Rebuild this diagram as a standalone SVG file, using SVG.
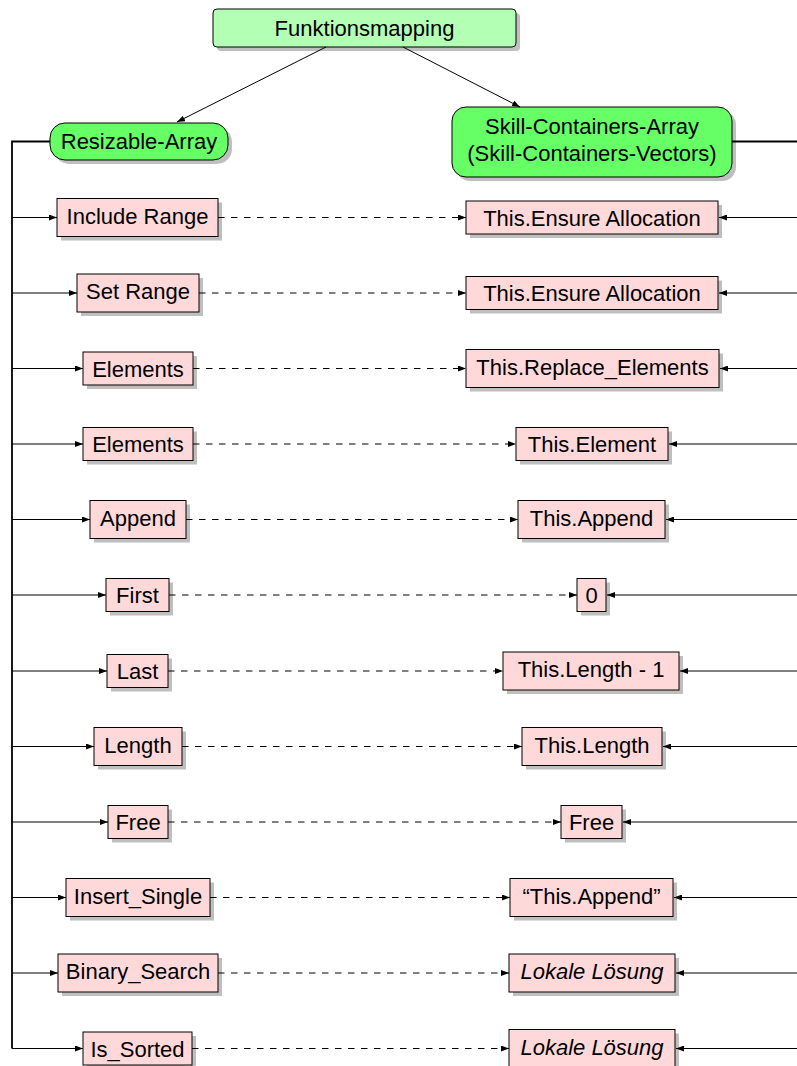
<svg xmlns="http://www.w3.org/2000/svg" width="797" height="1066" viewBox="0 0 797 1066">
  <style>
    text { font-family: "Liberation Sans", Arial, sans-serif; font-size: 22px; fill: #000; text-anchor: middle; }
    .it { font-style: italic; }
    .box { fill: #ffd9d9; stroke: #000; stroke-width: 1; }
    .shadow { fill: #bfbfbf; }
    .top { fill: #b3ffb3; stroke: #000; stroke-width: 1; }
    .mid { fill: #66ff66; stroke: #000; stroke-width: 1; }
    .ln { fill: none; stroke: #000; stroke-width: 1; }
    .trunk { fill: none; stroke: #000; stroke-width: 1.8; }
    .dash { fill: none; stroke: #000; stroke-width: 1; stroke-dasharray: 6.5 6.5; }
  </style>
  <defs>
    <marker id="tip" markerUnits="userSpaceOnUse" markerWidth="8" markerHeight="6" refX="8" refY="3" orient="auto">
      <path d="M0,0 L8,3 L0,6 Z" fill="#000"/>
    </marker>
  </defs>

  <rect width="797" height="1066" fill="#fff"/>

  <!-- root -->
  <g id="funktionsmapping">
    <rect class="shadow" x="217" y="13" width="303" height="38" rx="4"/>
    <rect class="top" x="213" y="9" width="303" height="38" rx="4"/>
    <text x="364.5" y="35.5">Funktionsmapping</text>
  </g>

  <!-- the two container families -->
  <g id="resizable-array">
    <rect class="shadow" x="54" y="127" width="178" height="37" rx="15"/>
    <rect class="mid" x="50" y="123" width="178" height="37" rx="15"/>
    <text x="139" y="149">Resizable-Array</text>
  </g>
  <g id="skill-containers-array">
    <rect class="shadow" x="456" y="111" width="280" height="70" rx="14"/>
    <rect class="mid" x="452" y="107" width="280" height="70" rx="14"/>
    <text x="592" y="133.5">Skill-Containers-Array</text>
    <text x="592" y="161">(Skill-Containers-Vectors)</text>
  </g>

  <!-- Resizable-Array operations -->
  <g id="l-include-range"><rect class="shadow" x="61" y="202.5" width="161" height="38"/><rect class="box" x="57" y="198.5" width="161" height="38"/><text x="137.5" y="223.5">Include Range</text></g>
  <g id="l-set-range"><rect class="shadow" x="81" y="278" width="122" height="38"/><rect class="box" x="77" y="274" width="122" height="38"/><text x="138" y="299">Set Range</text></g>
  <g id="l-elements-1"><rect class="shadow" x="87" y="356" width="110" height="33"/><rect class="box" x="83" y="352" width="110" height="33"/><text x="138" y="376.5">Elements</text></g>
  <g id="l-elements-2"><rect class="shadow" x="87" y="431.5" width="110" height="33"/><rect class="box" x="83" y="427.5" width="110" height="33"/><text x="138" y="452">Elements</text></g>
  <g id="l-append"><rect class="shadow" x="94" y="504.5" width="96" height="38"/><rect class="box" x="90" y="500.5" width="96" height="38"/><text x="138" y="525.5">Append</text></g>
  <g id="l-first"><rect class="shadow" x="110" y="582.5" width="63" height="33"/><rect class="box" x="106" y="578.5" width="63" height="33"/><text x="137.5" y="603">First</text></g>
  <g id="l-last"><rect class="shadow" x="111" y="658.5" width="61" height="33"/><rect class="box" x="107" y="654.5" width="61" height="33"/><text x="137.5" y="679">Last</text></g>
  <g id="l-length"><rect class="shadow" x="98" y="731.5" width="88" height="38"/><rect class="box" x="94" y="727.5" width="88" height="38"/><text x="138" y="752.5">Length</text></g>
  <g id="l-free"><rect class="shadow" x="112" y="809.5" width="60" height="33"/><rect class="box" x="108" y="805.5" width="60" height="33"/><text x="138" y="830">Free</text></g>
  <g id="l-insert-single"><rect class="shadow" x="70" y="882.5" width="144" height="38"/><rect class="box" x="66" y="878.5" width="144" height="38"/><text x="138" y="903.5">Insert_Single</text></g>
  <g id="l-binary-search"><rect class="shadow" x="62" y="958" width="160" height="38"/><rect class="box" x="58" y="954" width="160" height="38"/><text x="138" y="979">Binary_Search</text></g>
  <g id="l-is-sorted"><rect class="shadow" x="87" y="1036" width="109" height="33"/><rect class="box" x="83" y="1032" width="109" height="33"/><text x="137.5" y="1056.5">Is_Sorted</text></g>

  <!-- Skill-Containers counterparts -->
  <g id="r-ensure-allocation-1"><rect class="shadow" x="470" y="205" width="252" height="33"/><rect class="box" x="466" y="201" width="252" height="33"/><text x="592" y="225.5">This.Ensure Allocation</text></g>
  <g id="r-ensure-allocation-2"><rect class="shadow" x="470" y="280.5" width="252" height="33"/><rect class="box" x="466" y="276.5" width="252" height="33"/><text x="592" y="301">This.Ensure Allocation</text></g>
  <g id="r-replace-elements"><rect class="shadow" x="470" y="353.5" width="253" height="38"/><rect class="box" x="466" y="349.5" width="253" height="38"/><text x="592.5" y="374.5">This.Replace_Elements</text></g>
  <g id="r-element"><rect class="shadow" x="520" y="431.5" width="152" height="33"/><rect class="box" x="516" y="427.5" width="152" height="33"/><text x="592" y="452">This.Element</text></g>
  <g id="r-append"><rect class="shadow" x="522" y="504.5" width="147" height="38"/><rect class="box" x="518" y="500.5" width="147" height="38"/><text x="591.5" y="525.5">This.Append</text></g>
  <g id="r-zero"><rect class="shadow" x="581" y="582.5" width="29" height="33"/><rect class="box" x="577" y="578.5" width="29" height="33"/><text x="591.5" y="603">0</text></g>
  <g id="r-length-minus-one"><rect class="shadow" x="507" y="656" width="176" height="38"/><rect class="box" x="503" y="652" width="176" height="38"/><text x="591" y="677">This.Length - 1</text></g>
  <g id="r-length"><rect class="shadow" x="526" y="731.5" width="140" height="38"/><rect class="box" x="522" y="727.5" width="140" height="38"/><text x="592" y="752.5">This.Length</text></g>
  <g id="r-free"><rect class="shadow" x="565" y="809.5" width="61" height="33"/><rect class="box" x="561" y="805.5" width="61" height="33"/><text x="591.5" y="830">Free</text></g>
  <g id="r-append-quoted"><rect class="shadow" x="514" y="882.5" width="163" height="38"/><rect class="box" x="510" y="878.5" width="163" height="38"/><text x="591.5" y="903.5">“This.Append”</text></g>
  <g id="r-local-1"><rect class="shadow" x="513" y="958" width="166" height="38"/><rect class="box" x="509" y="954" width="166" height="38"/><text class="it" x="592" y="979">Lokale Lösung</text></g>
  <g id="r-local-2"><rect class="shadow" x="513" y="1033.5" width="166" height="38"/><rect class="box" x="509" y="1029.5" width="166" height="38"/><text class="it" x="592" y="1054.5">Lokale Lösung</text></g>

  <!-- connectors -->
  <g id="connectors">
    <path class="ln" d="M326,47 L177,122" marker-end="url(#tip)"/>
    <path class="ln" d="M403,47 L520,107" marker-end="url(#tip)"/>

    <path class="trunk" d="M50,141.5 H12 V1048.5"/>
    <path class="trunk" d="M732,141.5 H800"/>

    <!-- left trunk to operations -->
    <path class="ln" d="M12,217.5 H57" marker-end="url(#tip)"/>
    <path class="ln" d="M12,293 H77" marker-end="url(#tip)"/>
    <path class="ln" d="M12,368.5 H83" marker-end="url(#tip)"/>
    <path class="ln" d="M12,444 H83" marker-end="url(#tip)"/>
    <path class="ln" d="M12,519.5 H90" marker-end="url(#tip)"/>
    <path class="ln" d="M12,595 H106" marker-end="url(#tip)"/>
    <path class="ln" d="M12,671 H107" marker-end="url(#tip)"/>
    <path class="ln" d="M12,746.5 H94" marker-end="url(#tip)"/>
    <path class="ln" d="M12,822 H108" marker-end="url(#tip)"/>
    <path class="ln" d="M12,897.5 H66" marker-end="url(#tip)"/>
    <path class="ln" d="M12,973 H58" marker-end="url(#tip)"/>
    <path class="ln" d="M12,1048.5 H83" marker-end="url(#tip)"/>

    <!-- mapping -->
    <path class="dash" d="M218,217.5 H466" marker-end="url(#tip)"/>
    <path class="dash" d="M199,293 H466" marker-end="url(#tip)"/>
    <path class="dash" d="M193,368.5 H466" marker-end="url(#tip)"/>
    <path class="dash" d="M193,444 H516" marker-end="url(#tip)"/>
    <path class="dash" d="M186,519.5 H518" marker-end="url(#tip)"/>
    <path class="dash" d="M169,595 H577" marker-end="url(#tip)"/>
    <path class="dash" d="M168,671 H503" marker-end="url(#tip)"/>
    <path class="dash" d="M182,746.5 H522" marker-end="url(#tip)"/>
    <path class="dash" d="M168,822 H561" marker-end="url(#tip)"/>
    <path class="dash" d="M210,897.5 H510" marker-end="url(#tip)"/>
    <path class="dash" d="M218,973 H509" marker-end="url(#tip)"/>
    <path class="dash" d="M192,1048.5 H509" marker-end="url(#tip)"/>

    <!-- right trunk to counterparts -->
    <path class="ln" d="M800,217.5 H719" marker-end="url(#tip)"/>
    <path class="ln" d="M800,293 H719" marker-end="url(#tip)"/>
    <path class="ln" d="M800,368.5 H720" marker-end="url(#tip)"/>
    <path class="ln" d="M800,444 H669" marker-end="url(#tip)"/>
    <path class="ln" d="M800,519.5 H666" marker-end="url(#tip)"/>
    <path class="ln" d="M800,595 H607" marker-end="url(#tip)"/>
    <path class="ln" d="M800,671 H680" marker-end="url(#tip)"/>
    <path class="ln" d="M800,746.5 H663" marker-end="url(#tip)"/>
    <path class="ln" d="M800,822 H623" marker-end="url(#tip)"/>
    <path class="ln" d="M800,897.5 H674" marker-end="url(#tip)"/>
    <path class="ln" d="M800,973 H676" marker-end="url(#tip)"/>
    <path class="ln" d="M800,1048.5 H676" marker-end="url(#tip)"/>
  </g>
</svg>
